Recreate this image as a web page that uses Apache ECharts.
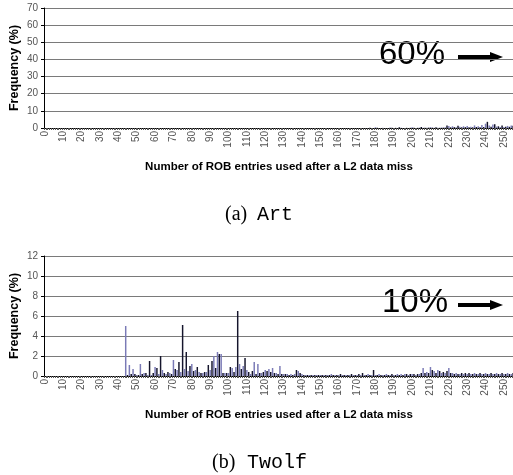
<!DOCTYPE html>
<html>
<head>
<meta charset="utf-8">
<script src="https://cdn.jsdelivr.net/npm/echarts@6/dist/echarts.min.js"></script>
<style>html,body{margin:0;padding:0;background:#fff;}#c{width:513px;height:475px;}</style>
</head>
<body>
<div id="c"></div>
<script>
// Categories: number of ROB entries 0..255
const categories = [];
for (let i = 0; i < 256; i++) categories.push(String(i));

const yTicksArt = [0, 10, 20, 30, 40, 50, 60, 70];
const yTicksTwolf = [0, 2, 4, 6, 8, 10, 12];

// Art: frequency (%) per ROB entry count (mass of 60% beyond axis)
const artValues = [
 0,0,0,0,0,0,0,0,0,0, 0,0,0,0,0,0,0,0,0,0,   // 0-19
 0,0,0,0,0,0,0,0,0,0, 0,0,0,0,0,0,0,0,0,0,   // 20-39
 0,0,0,0,0,0,0,0,0,0, 0,0,0,0,0,0,0,0,0,0,   // 40-59
 0,0,0,0,0,0,0,0,0,0, 0,0,0,0,0,0,0,0,0,0,   // 60-79
 0,0,0,0,0,0,0,0,0,0, 0,0,0,0,0,0,0,0,0,0,   // 80-99
 0,0,0,0,0,0,0,0,0,0, 0,0,0,0,0,0,0,0,0,0,   // 100-119
 0,0,0,0,0,0,0,0,0,0, 0,0,0,0,0,0,0,0,0,0,   // 120-139
 0,0,0,0,0,0,0,0,0,0, 0,0,0,0,0,0,0,0,0,0,   // 140-159
 0,0,0,0,0,0,0,0,0,0,                        // 160-169
 0,0,0,0,0,0,0,0.1,0,0, 0.4,0.1,0,0,0.1,0,0,0,0.3,0.1,   // 170-189
 0,0.1,0,0.4,0.1,0,0,0.1,0,0.1, 0.4,0.1,0,0.1,0.2,0.6,0.1,0.2,0.1,0.2, // 190-209
 0.5,0.2,0.1,0.4,0.2,0.1,0.3,0.2,0.4,1.5, 1.2,0.4,1.0,0.5,0.4,1.3,0.8,0.4,1.0,0.5, // 210-229
 1.2,0.5,0.8,0.4,1.5,0.6,1.0,0.5,1.8,0.6, 2.5,3.6,1.5,0.7,2.0,2.2,0.8,1.0,0.6,1.5, // 230-249
 0.6,0.8,1.2,0.7,1.5,1.3 // 250-255
];

// Twolf: frequency (%) per ROB entry count (mass of 10% beyond axis)
const twolfValues = [
 0,0,0,0,0,0,0,0,0,0, 0,0,0,0,0,0,0,0,0,0,
 0,0,0,0,0,0,0,0,0,0, 0,0,0,0,0,0,0,0,0,0,
 0,0,0,0,5.0,0.1,1.1,0.2,0.7,0.2,            // 40-49
 0.1,0.1,1.2,0.2,0.3,0.3,0.1,1.5,0.1,0.3,   // 50-59
 0.9,0.8,0.2,2.0,0.6,0.3,0.2,0.4,0.3,0.2,   // 60-69
 1.6,0.7,0.6,1.4,0.4,5.1,0.7,2.4,0.5,1.0,   // 70-79
 1.2,0.5,0.6,0.9,0.4,0.3,0.3,0.4,0.4,1.1,   // 80-89
 0.6,1.5,2.0,0.8,2.4,2.2,2.2,0.3,0.3,0.3,   // 90-99
 0.3,0.9,0.8,0.4,0.9,6.5,1.2,0.7,1.0,1.8,   // 100-109
 0.6,0.4,0.2,0.5,1.4,0.2,1.2,0.3,0.3,0.4,   // 110-119
 0.6,0.5,0.7,0.4,0.8,0.3,0.3,0.2,1.0,0.2,   // 120-129
 0.2,0.2,0.2,0.1,0.2,0.1,0.2,0.6,0.5,0.3,   // 130-139
 0.2,0.1,0.1,0.1,0.1,0.1,0.1,0.1,0.1,0.1,   // 140-149
 0.1,0.1,0.1,0.1,0.1,0.1,0.2,0.1,0.1,0.1,   // 150-159
 0.1,0.2,0.1,0.1,0.1,0.1,0.1,0.2,0.1,0.1,   // 160-169
 0.1,0.2,0.1,0.3,0.1,0.1,0.2,0.1,0.1,0.6,   // 170-179
 0.1,0.1,0.2,0.1,0.1,0.1,0.2,0.1,0.1,0.2,   // 180-189
 0.1,0.1,0.2,0.1,0.2,0.1,0.2,0.2,0.1,0.2,   // 190-199
 0.2,0.2,0.1,0.2,0.2,0.3,0.8,0.3,0.4,0.3,   // 200-209
 0.9,0.6,0.5,0.3,0.6,0.5,0.3,0.4,0.3,0.5,   // 210-219
 0.8,0.3,0.3,0.2,0.3,0.2,0.2,0.3,0.2,0.3,   // 220-229
 0.2,0.3,0.2,0.2,0.3,0.2,0.2,0.3,0.2,0.2,   // 230-239
 0.3,0.2,0.2,0.3,0.2,0.2,0.3,0.2,0.2,0.3,   // 240-249
 0.2,0.2,0.3,0.2,0.2,0.3                     // 250-255
];

const chart = echarts.init(document.getElementById('c'), null, {renderer: 'canvas'});

const barColor = function (p) { return p.dataIndex % 2 === 0 ? '#7a7ab6' : '#15152c'; };
const labelFont = 'Liberation Sans, Arial, sans-serif';

function xAxisCfg(gridIndex) {
  return {
    type: 'category', gridIndex: gridIndex, data: categories,
    boundaryGap: true,
    name: 'Number of ROB entries used after a L2 data miss',
    nameLocation: 'middle', nameGap: 33, nameMoveOverlap: false,
    nameTextStyle: {fontFamily: labelFont, fontWeight: 'bold', fontSize: 11.5, color: '#000'},
    axisLine: {show: true, lineStyle: {color: '#000', width: 1}},
    axisTick: {show: true, interval: 0, length: 2, alignWithLabel: false, lineStyle: {color: '#555', width: 1}},
    axisLabel: {interval: 9, rotate: 90, fontSize: 10, color: '#555', fontFamily: labelFont, margin: 3},
    splitLine: {show: false}
  };
}
function yAxisCfg(gridIndex, max, interval) {
  return {
    type: 'value', gridIndex: gridIndex, min: 0, max: max, interval: interval,
    name: 'Frequency (%)', nameLocation: 'middle', nameGap: 23, nameMoveOverlap: false,
    nameTextStyle: {fontFamily: labelFont, fontWeight: 'bold', fontSize: 12.5, color: '#000'},
    axisLine: {show: true, lineStyle: {color: '#000', width: 1}},
    axisTick: {show: true, length: 3, lineStyle: {color: '#000'}},
    axisLabel: {fontSize: 10, color: '#555', fontFamily: labelFont, margin: 6},
    splitLine: {show: true, lineStyle: {color: '#7a7a7a', width: 1}}
  };
}

function arrow(y) {
  return [
    {type: 'line', shape: {x1: 458, y1: y, x2: 492, y2: y}, style: {stroke: '#000', lineWidth: 4}},
    {type: 'polygon', shape: {points: [[490, y - 5], [503, y], [490, y + 5]]}, style: {fill: '#000'}}
  ];
}

const serif = 'Liberation Serif, Times New Roman, serif';
const mono = 'Liberation Mono, Courier New, monospace';

chart.setOption({
  animation: false,
  backgroundColor: '#fff',
  grid: [
    {left: 44, top: 8, width: 470, height: 120, outerBoundsMode: 'none', containLabel: false},
    {left: 44, top: 256, width: 470, height: 120, outerBoundsMode: 'none', containLabel: false}
  ],
  xAxis: [xAxisCfg(0), xAxisCfg(1)],
  yAxis: [yAxisCfg(0, yTicksArt[yTicksArt.length - 1], yTicksArt[1] - yTicksArt[0]),
          yAxisCfg(1, yTicksTwolf[yTicksTwolf.length - 1], yTicksTwolf[1] - yTicksTwolf[0])],
  series: [
    {type: 'bar', xAxisIndex: 0, yAxisIndex: 0, data: artValues, barCategoryGap: '20%',
     itemStyle: {color: barColor}, silent: true},
    {type: 'bar', xAxisIndex: 1, yAxisIndex: 1, data: twolfValues, barCategoryGap: '20%',
     itemStyle: {color: barColor}, silent: true}
  ],
  graphic: [
    {type: 'text', left: 379, top: 38, style: {text: '60%', fontFamily: labelFont, fontSize: 33, fill: '#000'}},
    ...arrow(57),
    {type: 'text', left: 382, top: 286, style: {text: '10%', fontFamily: labelFont, fontSize: 33, fill: '#000'}},
    ...arrow(305),
    {type: 'text', left: 225, top: 205, style: {text: '(a)', fontFamily: serif, fontSize: 20, fill: '#000'}},
    {type: 'text', left: 257, top: 205, style: {text: 'Art', fontFamily: mono, fontSize: 20, fill: '#000'}},
    {type: 'text', left: 212, top: 453, style: {text: '(b)', fontFamily: serif, fontSize: 20, fill: '#000'}},
    {type: 'text', left: 247, top: 453, style: {text: 'Twolf', fontFamily: mono, fontSize: 20, fill: '#000'}}
  ]
});
</script>
</body>
</html>
